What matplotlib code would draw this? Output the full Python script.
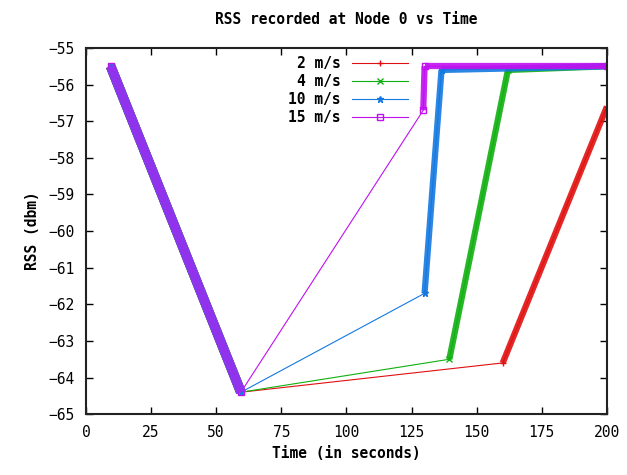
import matplotlib
matplotlib.use("Agg")
import matplotlib.pyplot as plt

## RSS traces (time in s, rss in dbm)
t_2 = [9.5, 59.5, 160.0, 200.0]
rss_2 = [-55.5, -64.4, -63.6, -56.6]

t_4 = [9.5, 59.5, 139.5, 162.0, 200.0]
rss_4 = [-55.5, -64.4, -63.5, -55.6, -55.5]

t_10 = [9.5, 59.5, 130.0, 136.5, 200.0]
rss_10 = [-55.5, -64.4, -61.7, -55.6, -55.5]

t_15 = [9.5, 59.5, 129.5, 130.0, 200.0]
rss_15 = [-55.5, -64.4, -56.7, -55.5, -55.5]

labels = ["2 m/s", "4 m/s", "10 m/s", "15 m/s"]
colors = ["#e01010", "#10b010", "#1478e0", "#c010f0"]
markers = ["+", "x", "*", "s"]

# segment index 1 is the sparse jump, the rest is densely sampled
sparse_seg = 1

plt.rcParams['font.family'] = ['DejaVu Sans Mono']

fig = plt.figure(figsize=(6.27, 4.75), dpi=100)
ax = fig.add_axes([0.137, 0.128, 0.831, 0.771])

series = [(t_2, rss_2), (t_4, rss_4), (t_10, rss_10), (t_15, rss_15)]
handles = []
for (t, r), lab, col, mk in zip(series, labels, colors, markers):
    # thin line through every recorded point
    h, = ax.plot(t, r, color=col, lw=0.8, marker=mk, ms=5,
                 mfc='none' if mk == "s" else col, mec=col, label=lab)
    handles.append(h)
    # dense parts show up as a thick band of markers
    for i in range(len(t) - 1):
        if i == sparse_seg:
            continue
        lw = 7 if i == 0 else 4.5
        c = "#9a2ef0" if (i == 0 and lab == "15 m/s") else col
        ax.plot(t[i:i + 2], r[i:i + 2], color=c, lw=lw,
                solid_capstyle='butt', alpha=0.9)

ax.set_xlim(0, 200)
ax.set_ylim(-65, -55)
ax.set_xticks(range(0, 201, 25))
ax.set_yticks(range(-65, -54, 1))
ax.tick_params(direction='in', length=5, width=1, top=True, right=True,
               labelsize=10.5, pad=8)
for s in ax.spines.values():
    s.set_linewidth(1.5)
    s.set_color("#222222")

ax.set_title("RSS recorded at Node 0 vs Time", fontsize=10.5, pad=17,
             fontweight='bold')
ax.set_xlabel("Time (in seconds)", fontsize=10.5, labelpad=4,
              fontweight='bold')
ax.set_ylabel("RSS (dbm)", fontsize=10.5, labelpad=6, fontweight='bold')

ax.legend(handles=handles, loc='upper right', bbox_to_anchor=(0.633, 1.0),
          frameon=False, markerfirst=False, handlelength=3.8, numpoints=1,
          prop={'size': 10.5, 'weight': 'bold'}, labelspacing=0.2,
          borderaxespad=0.15, handletextpad=0.8)

plt.savefig("out.png", dpi=100)
